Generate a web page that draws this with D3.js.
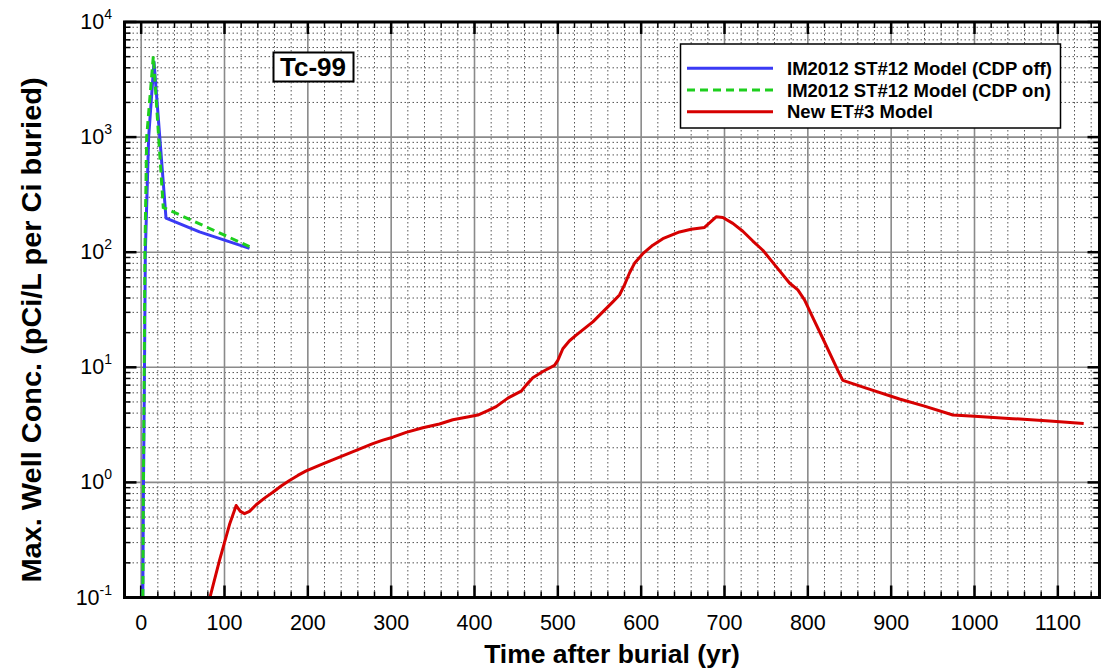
<!DOCTYPE html>
<html>
<head>
<meta charset="utf-8">
<script src="https://cdn.jsdelivr.net/npm/d3@7"></script>
<style>
  html, body { margin: 0; padding: 0; background: #fff; }
  svg { display: block; font-family: "Liberation Sans", Arial, Helvetica, sans-serif; }
</style>
</head>
<body>
<svg id="chart" width="1101" height="671"></svg>
<script>
// ---------------- data ----------------
const xTickValues = [0, 100, 200, 300, 400, 500, 600, 700, 800, 900, 1000, 1100];
const yTickExponents = [-1, 0, 1, 2, 3, 4];

const seriesNames = ["IM2012 ST#12 Model (CDP off)", "IM2012 ST#12 Model (CDP on)", "New ET#3 Model"];

// IM2012 ST#12 Model (CDP off)
const cdpOffYears = [1.5, 2, 2.8, 4, 5, 9, 15.4, 29.8, 70, 130];
const cdpOffConc  = [0.06, 0.1, 1, 10, 100, 1000, 4500, 198, 150, 108];

// IM2012 ST#12 Model (CDP on)
const cdpOnYears = [1.5, 2, 2.7, 3.7, 4.5, 6.6, 14.6, 26.5, 130];
const cdpOnConc  = [0.06, 0.1, 1, 10, 100, 1000, 5060, 245, 112];

// New ET#3 Model
const etYears = [80, 94, 106, 114, 119, 124, 130, 138, 148, 158, 168, 178, 188, 198, 218, 238, 258, 278, 290, 302,
                 318, 338, 358, 374, 390, 404, 416, 426, 440, 456, 462, 470, 482, 496, 500, 506, 514, 522, 542, 566,
                 574, 580, 586, 592, 602, 614, 626, 646, 660, 676, 684, 690, 698, 710, 722, 734, 746, 762, 778, 788,
                 796, 806, 818, 836, 842, 870, 910, 940, 974, 1000, 1046, 1090, 1131];
const etConc  = [0.085, 0.21, 0.43, 0.63, 0.56, 0.535, 0.56, 0.64, 0.73, 0.82, 0.93, 1.04, 1.15, 1.26, 1.45, 1.66, 1.9, 2.17, 2.33, 2.47,
                 2.72, 2.98, 3.22, 3.5, 3.68, 3.85, 4.2, 4.55, 5.4, 6.2, 7.0, 8.1, 9.2, 10.4, 11.5, 14.5, 17, 19, 24.8, 37,
                 42.5, 52, 66, 80, 97, 115, 131, 150, 158, 164, 185, 203, 200, 178, 152, 125, 104, 75, 54, 47,
                 38.5, 27, 17.8, 9.4, 7.7, 6.6, 5.3, 4.6, 3.85, 3.75, 3.58, 3.42, 3.25];

// ---------------- layout ----------------
const L = 124.5, R = 1099.5, T = 22, B = 597.5;
const svg = d3.select("#chart");

const x = d3.scaleLinear().domain([-20, 1150]).range([L, R]);
const y = d3.scaleLog().domain([0.1, 10000]).range([B, T]);

const minorX = d3.range(-20, 1151, 20).filter(v => v % 100 !== 0 && v > -20 && v < 1150);
const minorY = [];
for (let e = -1; e < 4; e++) for (let m = 2; m <= 9; m++) minorY.push(m * Math.pow(10, e));
const majorY = yTickExponents.map(e => Math.pow(10, e));

// ---------------- grid ----------------
const grid = svg.append("g");
grid.selectAll(".mxg").data(minorX).join("line")
  .attr("x1", d => x(d)).attr("x2", d => x(d)).attr("y1", T).attr("y2", B)
  .attr("stroke", "#555").attr("stroke-width", 1).attr("stroke-dasharray", "1.5,2.5");
grid.selectAll(".myg").data(minorY).join("line")
  .attr("x1", L).attr("x2", R).attr("y1", d => y(d)).attr("y2", d => y(d))
  .attr("stroke", "#555").attr("stroke-width", 1).attr("stroke-dasharray", "1.5,2.5");
grid.selectAll(".Mxg").data(xTickValues).join("line")
  .attr("x1", d => x(d)).attr("x2", d => x(d)).attr("y1", T).attr("y2", B)
  .attr("stroke", "#8a8a8a").attr("stroke-width", 1.6);
grid.selectAll(".Myg").data(majorY).join("line")
  .attr("x1", L).attr("x2", R).attr("y1", d => y(d)).attr("y2", d => y(d))
  .attr("stroke", "#8a8a8a").attr("stroke-width", 1.6);

// ---------------- ticks (inward, all four sides) ----------------
const tk = svg.append("g").attr("stroke", "#000");
function xt(vals, len, w) {
  tk.append("g").selectAll("line").data(vals).join("line")
    .attr("x1", d => x(d)).attr("x2", d => x(d)).attr("y1", B).attr("y2", B - len).attr("stroke-width", w);
  tk.append("g").selectAll("line").data(vals).join("line")
    .attr("x1", d => x(d)).attr("x2", d => x(d)).attr("y1", T).attr("y2", T + len).attr("stroke-width", w);
}
function yt(vals, len, w) {
  tk.append("g").selectAll("line").data(vals).join("line")
    .attr("y1", d => y(d)).attr("y2", d => y(d)).attr("x1", L).attr("x2", L + len).attr("stroke-width", w);
  tk.append("g").selectAll("line").data(vals).join("line")
    .attr("y1", d => y(d)).attr("y2", d => y(d)).attr("x1", R).attr("x2", R - len).attr("stroke-width", w);
}
xt(minorX, 6, 1.5);
xt(xTickValues, 12, 2.5);
yt(minorY, 6, 1.5);
yt(majorY, 12, 2.5);

// ---------------- series ----------------
svg.append("clipPath").attr("id", "clip").append("rect")
  .attr("x", L).attr("y", T).attr("width", R - L).attr("height", B - T);
const plot = svg.append("g").attr("clip-path", "url(#clip)");
const line = d3.line().x(d => x(d[0])).y(d => y(d[1]));
const zip = (a, b) => a.map((v, i) => [v, b[i]]);

plot.append("path").datum(zip(etYears, etConc)).attr("d", line)
  .attr("fill", "none").attr("stroke", "#d60000").attr("stroke-width", 3).attr("stroke-linejoin", "round");
plot.append("path").datum(zip(cdpOffYears, cdpOffConc)).attr("d", line)
  .attr("fill", "none").attr("stroke", "#3a3af5").attr("stroke-width", 3).attr("stroke-linejoin", "round");
plot.append("path").datum(zip(cdpOnYears, cdpOnConc)).attr("d", line)
  .attr("fill", "none").attr("stroke", "#1ecf1e").attr("stroke-width", 3).attr("stroke-dasharray", "8,5");

// ---------------- frame ----------------
svg.append("rect").attr("x", L).attr("y", T).attr("width", R - L).attr("height", B - T)
  .attr("fill", "none").attr("stroke", "#000").attr("stroke-width", 3);

// ---------------- tick labels ----------------
svg.append("g").selectAll("text").data(xTickValues).join("text")
  .attr("x", d => x(d)).attr("y", 630).attr("text-anchor", "middle")
  .attr("font-size", 21.5).attr("fill", "#000").text(d => d);

const yl = svg.append("g").selectAll("text").data(yTickExponents).join("text")
  .attr("x", 112).attr("y", e => y(Math.pow(10, e)) + 7).attr("text-anchor", "end")
  .attr("font-size", 21.5).attr("fill", "#000");
yl.append("tspan").text("10");
yl.append("tspan").attr("font-size", 14).attr("dy", -10).text(e => e);

// ---------------- axis titles ----------------
svg.append("text").attr("x", (L + R) / 2).attr("y", 663).attr("text-anchor", "middle")
  .attr("font-size", 26.5).attr("font-weight", "bold").attr("fill", "#000")
  .text("Time after burial (yr)");
svg.append("text").attr("transform", "translate(41,330) rotate(-90)").attr("text-anchor", "middle")
  .attr("font-size", 27).attr("font-weight", "bold").attr("fill", "#000")
  .attr("textLength", 505).attr("lengthAdjust", "spacingAndGlyphs")
  .text("Max. Well Conc. (pCi/L per Ci buried)");

// ---------------- Tc-99 label ----------------
svg.append("rect").attr("x", 273.5).attr("y", 52.5).attr("width", 80).attr("height", 29)
  .attr("fill", "#fff").attr("stroke", "#000").attr("stroke-width", 2);
svg.append("text").attr("x", 313).attr("y", 76).attr("text-anchor", "middle")
  .attr("font-size", 26).attr("font-weight", "bold").attr("fill", "#000").text("Tc-99");

// ---------------- legend ----------------
const legColors = ["#3a3af5", "#1ecf1e", "#d60000"];
const legDash = [null, "8,5", null];
const lg = svg.append("g");
lg.append("rect").attr("x", 680.5).attr("y", 44).attr("width", 380).attr("height", 84)
  .attr("fill", "#fff").attr("stroke", "#000").attr("stroke-width", 1.5);
const rows = lg.selectAll("g").data(seriesNames).join("g")
  .attr("transform", (d, i) => `translate(0,${68.3 + i * 21.7})`);
rows.append("line").attr("x1", 687).attr("x2", 773).attr("y1", 0).attr("y2", 0)
  .attr("stroke", (d, i) => legColors[i]).attr("stroke-width", 3)
  .attr("stroke-dasharray", (d, i) => legDash[i]);
rows.append("text").attr("x", 787).attr("y", 6.7)
  .attr("font-size", 18.5).attr("font-weight", "bold").attr("fill", "#000").text(d => d);
</script>
</body>
</html>
